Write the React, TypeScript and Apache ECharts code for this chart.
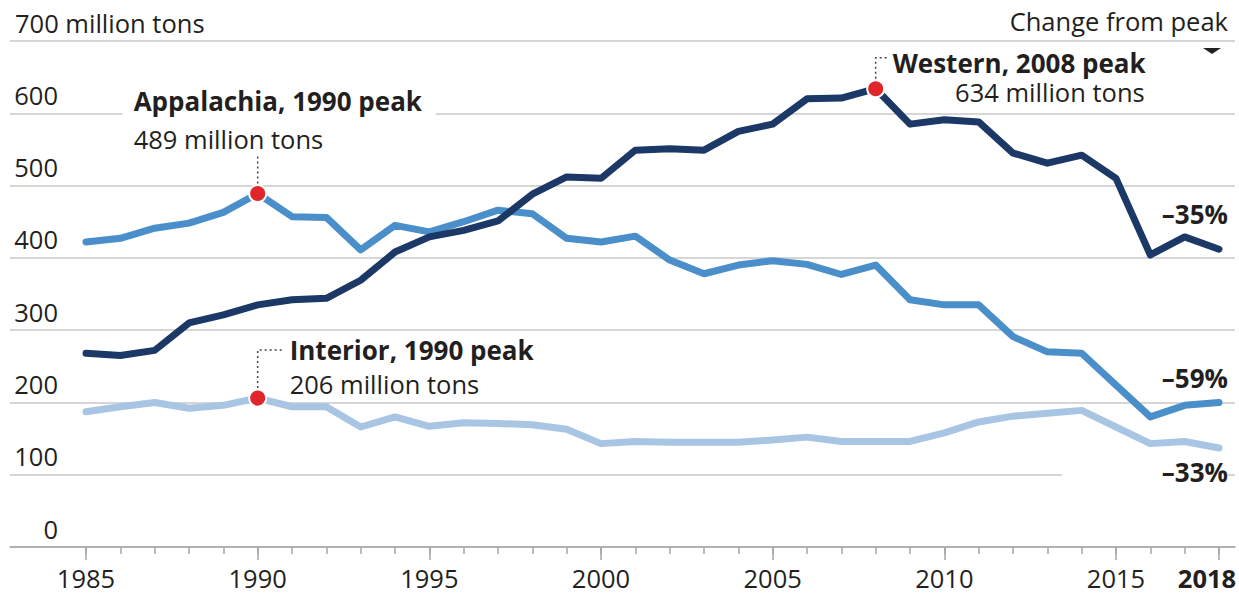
import React, { useEffect, useRef } from "react";
import * as echarts from "echarts";

const years = [1985, 1986, 1987, 1988, 1989, 1990, 1991, 1992, 1993, 1994, 1995, 1996, 1997, 1998, 1999, 2000, 2001, 2002, 2003, 2004, 2005, 2006, 2007, 2008, 2009, 2010, 2011, 2012, 2013, 2014, 2015, 2016, 2017, 2018];
const western = [268, 265, 272, 310, 321, 335, 342, 344, 369, 408, 429, 438, 451, 488, 512, 510, 549, 551, 549, 575, 585, 620, 621, 634, 585, 591, 588, 545, 531, 542, 510, 404, 429, 412];
const appalachia = [422, 427, 441, 448, 463, 489, 457, 456, 411, 445, 436, 450, 466, 461, 427, 422, 430, 397, 378, 390, 396, 391, 377, 390, 342, 335, 335, 291, 270, 268, 224, 180, 196, 200];
const interior = [187, 194, 200, 192, 196, 206, 194, 194, 166, 180, 167, 172, 171, 169, 163, 143, 146, 145, 145, 145, 148, 152, 146, 146, 146, 158, 173, 181, 185, 189, 166, 143, 146, 137];
const majorYears = [1985, 1990, 1995, 2000, 2005, 2010, 2015, 2018];
const peakYears = [1990, 2008, 1990];
const peakValues = [489, 634, 206];
const peakTitles = ["Appalachia, 1990 peak", "Western, 2008 peak", "Interior, 1990 peak"];
const peakSubs = ["489 million tons", "634 million tons", "206 million tons"];
const changeLabels = ["\u201335%", "\u201359%", "\u201333%"];

const F = '"Open Sans", sans-serif';
const INK = "#231f20";
const C_WEST = "#1b3866";
const C_APP = "#4a8fca";
const C_INT = "#a8c5e3";
const FS = 25.5;
const FSB = 26;

export default function App() {
  const ref = useRef<HTMLDivElement>(null);
  useEffect(() => {
    document.body.style.margin = "0";
    const chart = echarts.init(ref.current!, null, { renderer: "svg" });
    const pair = (arr: number[]) => years.map((y, i) => [y, arr[i]]);
    const lineSeries = (name: string, arr: number[], color: string) => ({
      type: "line",
      name,
      data: pair(arr),
      xAxisIndex: 0,
      yAxisIndex: 0,
      symbol: "none",
      smooth: false,
      lineStyle: { color, width: 7, cap: "round", join: "round" },
      z: 3,
    });
    chart.setOption({
      animation: false,
      backgroundColor: "#fff",
      grid: { left: 10, right: 4, top: 41, bottom: 47, containLabel: false, outerBoundsMode: "none" },
      xAxis: [
        {
          type: "value",
          min: 1982.786,
          max: 2018.466,
          axisLine: { show: true, lineStyle: { color: "#a6a6a6", width: 1.5 } },
          axisTick: { show: true, customValues: years, length: 7, lineStyle: { color: "#a6a6a6", width: 1.5 } },
          axisLabel: { show: false },
          splitLine: { show: false },
        },
        {
          type: "value",
          min: 1982.786,
          max: 2018.466,
          position: "bottom",
          axisLine: { show: false },
          axisTick: { show: true, customValues: majorYears, length: 13, lineStyle: { color: "#a6a6a6", width: 1.5 } },
          axisLabel: {
            show: true,
            customValues: majorYears,
            margin: 18,
            fontFamily: F,
            fontSize: FS,
            color: INK,
            hideOverlap: false,
            formatter: (v: number) => (v === 2018 ? "{b|2018}" : String(v)),
            rich: { b: { fontFamily: F, fontSize: FS, fontWeight: "bold", color: INK, padding: [0, 24, 0, 0] } },
          },
          splitLine: { show: false },
        },
      ],
      yAxis: {
        type: "value",
        min: 0,
        max: 700,
        interval: 100,
        axisLine: { show: false },
        axisTick: { show: false },
        splitLine: { show: true, lineStyle: { color: "#c9c9c9", width: 1.5 } },
        axisLabel: {
          inside: true,
          margin: 5,
          align: "left",
          verticalAlign: "middle",
          padding: [0, 0, 37, 0],
          fontFamily: F,
          fontSize: FS,
          color: INK,
          formatter: (v: number) => (v === 700 ? "{a|700 million tons}" : "{n|" + v + "}"),
          rich: {
            a: { fontFamily: F, fontSize: FS, color: INK },
            n: { fontFamily: F, fontSize: FS, color: INK, width: 43, align: "right" },
          },
        },
      },
      series: [
        lineSeries("Interior", interior, C_INT),
        lineSeries("Appalachia", appalachia, C_APP),
        lineSeries("Western", western, C_WEST),
        {
          type: "scatter",
          data: peakYears.map((y, i) => [y, peakValues[i]]),
          symbol: "circle",
          symbolSize: 17,
          itemStyle: { color: "#e1262b", borderColor: "#fff", borderWidth: 2, opacity: 1 },
          z: 5,
        },
      ],
    });

    const px = (x: number, y: number) => chart.convertToPixel({ gridIndex: 0 }, [x, y]) as number[];
    const txt = (x: number, y: number, text: string, extra: any = {}) => ({
      type: "text",
      x,
      y,
      z: 10,
      style: { text, fontFamily: F, fontSize: FS, fill: INK, align: "left", verticalAlign: "middle", ...extra },
    });
    const bold = { fontWeight: "bold", fontSize: FSB };
    const dots = { stroke: "#444", lineWidth: 1.5, lineDash: [2, 3], fill: null };

    const [ax, ay] = px(peakYears[0], peakValues[0]);
    const [wx, wy] = px(peakYears[1], peakValues[1]);
    const [ix, iy] = px(peakYears[2], peakValues[2]);
    const last = years[years.length - 1];
    const [lwx, lwy] = px(last, western[western.length - 1]);
    const [, lay] = px(last, appalachia[appalachia.length - 1]);
    const [, liy] = px(last, interior[interior.length - 1]);
    const rx = lwx + 9;

    chart.setOption({
      graphic: [
        // Appalachia
        { type: "rect", z: 1, shape: { x: ax - 135, y: ay - 115, width: 313, height: 74 }, style: { fill: "#fff" } },
        { type: "line", z: 4, shape: { x1: ax, y1: ay - 10, x2: ax, y2: ay - 38 }, style: dots },
        txt(ax - 124, ay - 93, peakTitles[0], bold),
        txt(ax - 124, ay - 55, peakSubs[0]),
        // Western
        { type: "polyline", z: 4, shape: { points: [[wx, wy - 10], [wx, wy - 31], [wx + 12, wy - 31]] }, style: dots },
        txt(wx + 17, wy - 26, peakTitles[1], bold),
        txt(wx + 269, wy + 3, peakSubs[1], { align: "right" }),
        // Interior
        { type: "polyline", z: 4, shape: { points: [[ix, iy - 10], [ix, iy - 48], [ix + 24, iy - 48]] }, style: dots },
        txt(ix + 32, iy - 48, peakTitles[2], bold),
        txt(ix + 32, iy - 14, peakSubs[2]),
        // Change from peak
        txt(rx, 21, "Change from peak", { align: "right" }),
        { type: "polygon", z: 10, shape: { points: [[rx - 25, 48], [rx - 7, 48], [rx - 16, 54]] }, style: { fill: INK } },
        txt(rx, lwy - 35, changeLabels[0], { align: "right", ...bold }),
        txt(rx, lay - 24, changeLabels[1], { align: "right", ...bold }),
        txt(rx, liy + 24, changeLabels[2], {
          align: "right",
          ...bold,
          backgroundColor: "#fff",
          padding: [2, 0, 2, 100],
        }),
      ],
    });

    return () => chart.dispose();
  }, []);
  return <div ref={ref} style={{ width: 1239, height: 594 }} />;
}
